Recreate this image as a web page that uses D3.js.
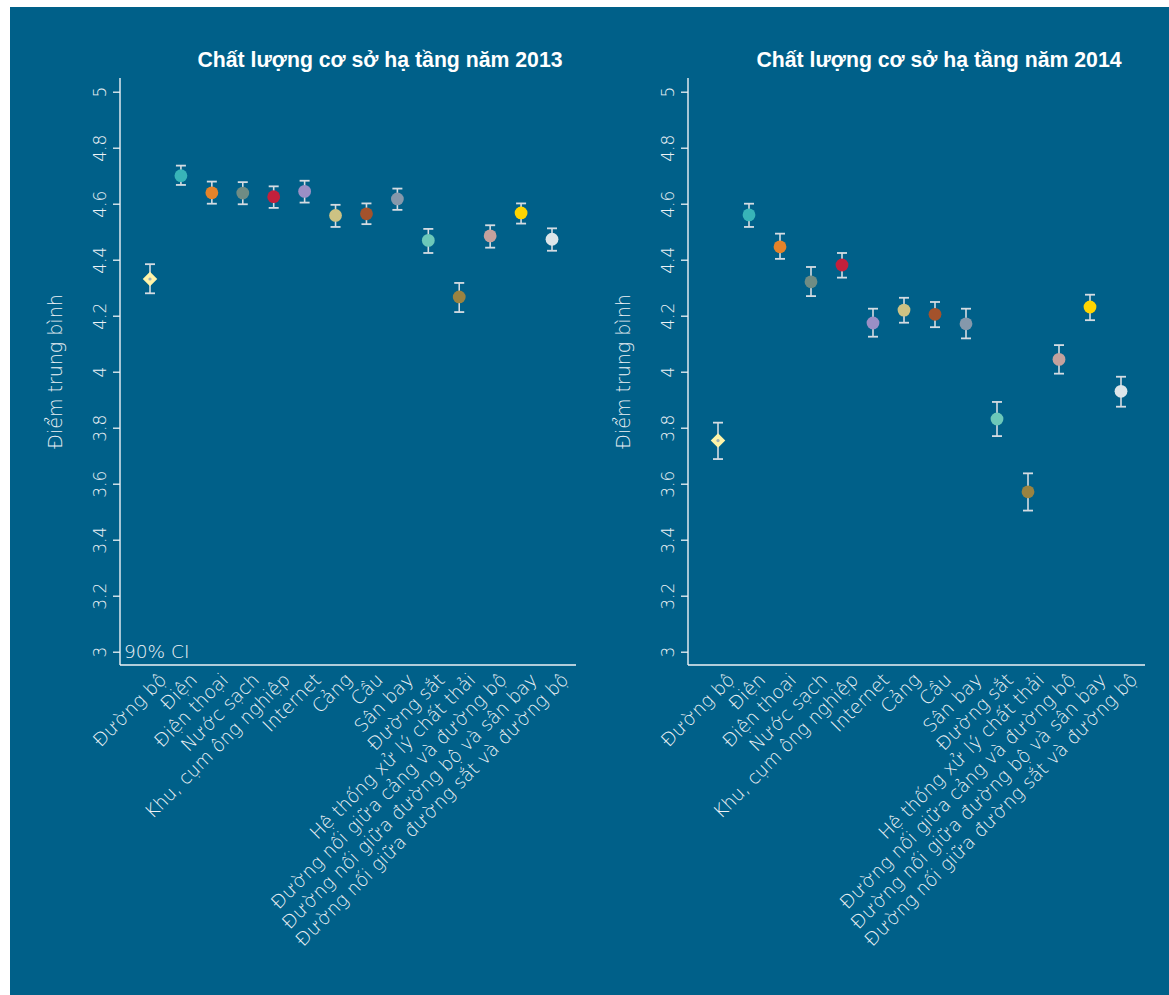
<!DOCTYPE html>
<html><head><meta charset="utf-8">
<script src="https://cdn.jsdelivr.net/npm/d3@7"></script>
<style>
body{margin:0;background:#fff;}
svg{display:block;}
.tick text{font-family:"DejaVu Sans",sans-serif;font-weight:200;}
</style></head>
<body>
<svg id="chart" width="1169" height="995"></svg>
<script>
const categories = ["Đường bộ","Điện","Điện thoại","Nước sạch","Khu, cụm ông nghiệp","Internet","Cảng","Cầu","Sân bay","Đường sắt","Hệ thống xử lý chất thải","Đường nối giữa cảng và đường bộ","Đường nối giữa đường bộ và sân bay","Đường nối giữa đường sắt và đường bộ"];
const colors = ["#fff4a8","#38b4b8","#e5832a","#6f8c84","#c3203b","#9b8fc5","#cdc283","#a4522c","#8598ab","#6cc8b9","#9a8341","#c4a19d","#ffd500","#dce6ea"];
const years = ["2013","2014"];
const mean2013 = [4.331,4.700,4.639,4.638,4.625,4.644,4.558,4.564,4.617,4.469,4.267,4.485,4.567,4.473];
const lo2013   = [4.280,4.667,4.600,4.598,4.585,4.604,4.517,4.527,4.578,4.424,4.213,4.443,4.529,4.432];
const hi2013   = [4.384,4.736,4.679,4.677,4.662,4.682,4.596,4.601,4.654,4.510,4.317,4.523,4.601,4.512];
const mean2014 = [3.754,4.560,4.446,4.321,4.381,4.174,4.220,4.205,4.171,3.831,3.571,4.044,4.231,3.930];
const lo2014   = [3.688,4.517,4.403,4.270,4.336,4.125,4.175,4.159,4.119,3.770,3.504,3.993,4.184,3.875];
const hi2014   = [3.818,4.600,4.493,4.374,4.424,4.225,4.264,4.249,4.225,3.892,3.637,4.095,4.275,3.982];
const yTicks = [3,3.2,3.4,3.6,3.8,4,4.2,4.4,4.6,4.8,5];
const titlePrefix = "Chất lượng cơ sở hạ tầng năm ";
const yLabel = "Điểm trung bình";
const ciLabel = "90% CI";

const svg = d3.select("#chart");
const bg = "#006089";
const fg = "#eef2f6";
const lightFont = "'DejaVu Sans',sans-serif";
svg.append("rect").attr("x",10).attr("y",7).attr("width",1159).attr("height",988).attr("fill",bg);

const panels = [
  {year:years[0], mean:mean2013, lo:lo2013, hi:hi2013, left:120, right:576, titleX:380},
  {year:years[1], mean:mean2014, lo:lo2014, hi:hi2014, left:688, right:1145, titleX:939}
];
const plotTop = 78, plotBottom = 665;
const y = d3.scaleLinear().domain([3,5]).range([651.7,91.7]);

panels.forEach((p,pi)=>{
  const g = svg.append("g");
  const x = d3.scalePoint().domain(categories).range([p.left+30, p.right-24]);
  g.append("text").attr("x",p.titleX).attr("y",67).attr("text-anchor","middle")
    .attr("font-family","'Liberation Sans',Arial,sans-serif")
    .attr("font-weight","bold").attr("font-size",22).attr("fill","#fff")
    .attr("textLength",365).attr("lengthAdjust","spacingAndGlyphs")
    .text(titlePrefix + p.year);
  const ya = g.append("g").attr("transform",`translate(${p.left},0)`)
    .call(d3.axisLeft(y).tickValues(yTicks).tickFormat(d3.format("~g")).tickSize(7).tickPadding(0));
  ya.select(".domain").remove();
  ya.selectAll(".tick line").attr("stroke",fg).attr("stroke-width",1.3);
  ya.selectAll(".tick text").attr("fill",fg).attr("font-size",17)
    .attr("transform","translate(-14,0) rotate(-90)").attr("text-anchor","middle").attr("x",0).attr("dy","0");
  g.append("line").attr("x1",p.left).attr("x2",p.left).attr("y1",plotTop).attr("y2",plotBottom)
    .attr("stroke",fg).attr("stroke-width",1.4);
  const xa = g.append("g").attr("transform",`translate(0,${plotBottom})`)
    .call(d3.axisBottom(x).tickSize(0).tickPadding(0));
  xa.select(".domain").remove();
  xa.selectAll(".tick text").attr("fill",fg).attr("font-size",18.5).attr("text-anchor","end")
    .attr("transform","translate(17,16) rotate(-45)").attr("y",0).attr("dy","0");
  g.append("line").attr("x1",p.left).attr("x2",p.right).attr("y1",plotBottom).attr("y2",plotBottom)
    .attr("stroke",fg).attr("stroke-width",1.4);
  g.append("text").attr("transform",`translate(${p.left-58},${(plotTop+plotBottom)/2}) rotate(-90)`)
    .attr("text-anchor","middle").attr("font-family",lightFont)
    .attr("font-weight",200).attr("font-size",19).attr("fill",fg).text(yLabel);
  if(pi===0){
    g.append("text").attr("x",p.left+4).attr("y",y(3)+6).attr("font-family",lightFont)
      .attr("font-weight",200).attr("font-size",18.5).attr("fill",fg).text(ciLabel);
  }
  const eb = "#d5dce2";
  categories.forEach((c,i)=>{
    const cx = x(c);
    g.append("line").attr("x1",cx).attr("x2",cx).attr("y1",y(p.lo[i])).attr("y2",y(p.hi[i]))
      .attr("stroke",eb).attr("stroke-width",1.6);
    [p.lo[i],p.hi[i]].forEach(v=>{
      g.append("line").attr("x1",cx-5).attr("x2",cx+5).attr("y1",y(v)).attr("y2",y(v))
        .attr("stroke",eb).attr("stroke-width",1.8);
    });
    if(i===0){
      g.append("path").attr("d",d3.symbol(d3.symbolSquare,105)())
        .attr("transform",`translate(${cx},${y(p.mean[i])}) rotate(45)`).attr("fill",colors[i]);
      g.append("circle").attr("cx",cx).attr("cy",y(p.mean[i])).attr("r",1.6).attr("fill","#9fb0b5");
    } else {
      g.append("circle").attr("cx",cx).attr("cy",y(p.mean[i])).attr("r",6.4).attr("fill",colors[i]);
    }
  });
});
</script>
</body></html>
